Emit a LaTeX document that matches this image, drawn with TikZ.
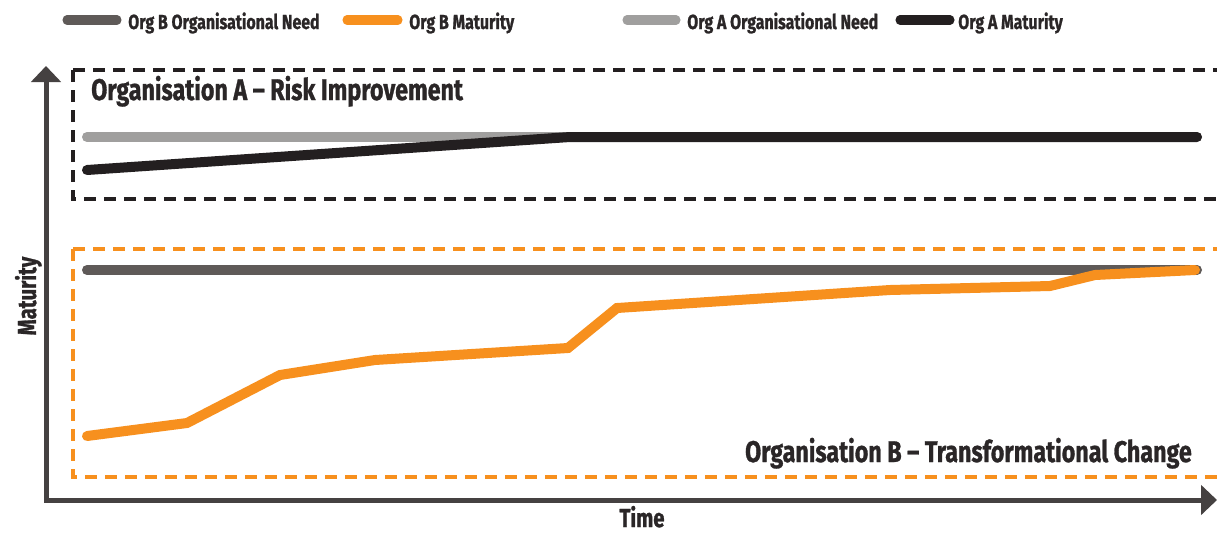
\documentclass[tikz,border=0pt]{standalone}
\usepackage{fontspec}
\setmainfont{Fira Sans}[FakeStretch=0.78, BoldFeatures={FakeBold=1}]
\usetikzlibrary{arrows.meta}
\definecolor{needB}{HTML}{5F5A58}
\definecolor{orgorange}{HTML}{F7901E}
\definecolor{needA}{HTML}{A09F9E}
\definecolor{matA}{HTML}{231F20}
\definecolor{axisc}{HTML}{454141}
\definecolor{txt}{HTML}{2A2627}
\begin{document}
\begin{tikzpicture}[x=0.75pt,y=-0.75pt,
  series/.style={line width=7.5pt, line cap=round, line join=miter},
  legline/.style={line width=6.8pt, line cap=round},
  legtext/.style={font=\bfseries\fontsize{15.3}{17}\selectfont, text=txt, anchor=base west, inner sep=0pt},
  boxtitle/.style={font=\bfseries\fontsize{22.4}{24}\selectfont, text=txt, inner sep=0pt},
  axislabel/.style={font=\bfseries\fontsize{19.5}{21}\selectfont, text=txt, inner sep=0pt},
  dashbox/.style={line width=2.9pt, dash pattern=on 9pt off 6pt},
  axis/.style={line width=3.75pt, draw=axisc, -{Triangle[length=12pt,width=22pt]}}]
\useasboundingbox (0,0) rectangle (1217,533);
% legend
\draw[legline, needB] (67,20) -- (117,20);
\node[legtext] (lgBN) at (128,29) {Org B Organisational Need};
\draw[legline, orgorange] (347,20) -- (398,20);
\node[legtext] (lgBM) at (409,29) {Org B Maturity};
\draw[legline, needA] (627,20) -- (676,20);
\node[legtext] (lgAN) at (687,29) {Org A Organisational Need};
\draw[legline, matA] (900,20) -- (950,20);
\node[legtext] (lgAM) at (958,29) {Org A Maturity};
% boxes
\draw[dashbox, matA] (73,70) -- (1217,70);
\draw[dashbox, matA] (73,70) -- (73,199) -- (1217,199);
\draw[dashbox, orgorange] (73,249) -- (1217,249);
\draw[dashbox, orgorange] (73,249) -- (73,477) -- (1217,477);
\node[boxtitle, anchor=base west] (tA) at (91,100) {Organisation A – Risk Improvement};
\node[boxtitle, anchor=base east] (tB) at (1192,462) {Organisation B – Transformational Change};
% series A
\draw[series, needA] (87,137) -- (1197,137);
\draw[series, matA] (87,170) -- (570,137) -- (1197,137);
% series B
\draw[series, needB] (87,270) -- (1197,270);
\draw[series, orgorange] (87,436) -- (187,423) -- (280,375) -- (375,360) -- (568,348) -- (617,308) -- (890,290) -- (1050,286) -- (1095,275) -- (1195,270);
% axes
\coordinate (origin) at (46,500);
\coordinate (ytop) at (46,66);
\coordinate (xend) at (1217,500);
\draw[axis] (46,502) -- (ytop);
\draw[axis] (44,500) -- (xend);
\node[axislabel, anchor=base] (xl) at (642,527) {Time};
\node[axislabel, rotate=90, anchor=base] (yl) at (36,296) {Maturity};
\end{tikzpicture}
\end{document}
